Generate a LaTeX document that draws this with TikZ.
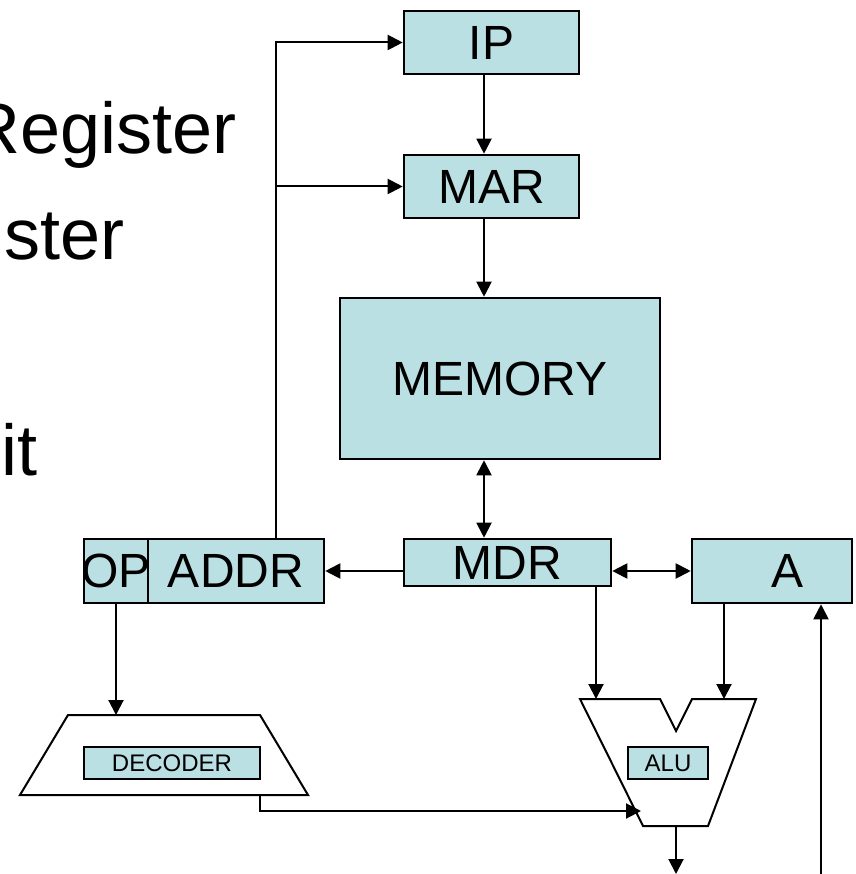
\documentclass[tikz,border=0pt]{standalone}
\usepackage{fontspec}
\setmainfont{Liberation Sans}
\usetikzlibrary{arrows.meta, calc}
\definecolor{regfill}{RGB}{187,224,227}
\newcommand{\bigf}{\fontsize{48}{50}\selectfont}
\newcommand{\smallf}{\fontsize{24}{26}\selectfont}
\tikzset{
  reg/.style={draw, fill=regfill, line width=2.6pt, inner sep=0pt, font=\bigf},
  tag/.style={draw, fill=regfill, line width=2pt, inner sep=0pt, font=\smallf},
  unit/.style={draw, line width=2pt, fill=white},
  wire/.style={line width=2pt, -{Triangle[length=15pt, width=15pt]}},
  bothwire/.style={line width=2pt, {Triangle[length=15pt, width=15pt]}-{Triangle[length=15pt, width=15pt]}},
  slide/.style={anchor=base east, inner sep=0pt, font=\fontsize{72}{74}\selectfont}
}

\begin{document}
\begin{tikzpicture}[x=1pt, y=-1pt]
\useasboundingbox (0,0) rectangle (855,874);
\clip (0,0) rectangle (855,874);
% slide text behind the diagram
\node[slide] (t1) at (237,154) {Register};
\node[slide] (t2) at (125,260) {ster};
\node[slide] (t3) at (38,475) {it};
% registers and memory
\node[reg, minimum width=175pt, minimum height=63pt] (ip) at (491.5,42.5) {IP};
\node[reg, minimum width=175pt, minimum height=63pt] (mar) at (491.5,186.5) {MAR};
\node[reg, minimum width=320pt, minimum height=161pt] (mem) at (500,378.5) {MEMORY};
\node[reg, minimum width=207pt, minimum height=47pt] (mdr) at (507.5,562.5) {MDR};
\node[reg, minimum width=160pt, minimum height=64pt] (acc) at (772,571) {\hspace{30pt}A};
\node[reg, minimum width=64pt, minimum height=64pt] (op) at (116,571) {\makebox[64pt][c]{OP}};
\node[reg, minimum width=176pt, minimum height=64pt] (addr) at (236,571) {ADDR};
% decoder
\draw[unit] (68,715) -- (260,715) -- (308,795) -- (20,795) -- cycle;
\node[tag, minimum width=176pt, minimum height=32pt] (dec) at (172,763) {DECODER};
\coordinate (dec in) at (116,715);
\coordinate (dec out) at (260,795);
% ALU
\draw[unit] (580,699) -- (660,699) -- (676,731) -- (692,699) -- (756,699)
  -- (708,826) -- (643,826) -- cycle;
\node[tag, minimum width=80pt, minimum height=32pt] (alu) at (668,763) {ALU};
\coordinate (alu in1) at (596,699);
\coordinate (alu in2) at (724,699);
\coordinate (alu ctl) at (641,811);
\coordinate (alu out) at (676,826);
\coordinate (res) at (676,874);
\coordinate (feed) at (821,874);
% buses
\coordinate (spine) at (484,0);
\coordinate (bus) at (276,0);
\draw[wire] (spine |- ip.south) -- (spine |- mar.north);
\draw[wire] (spine |- mar.south) -- (spine |- mem.north);
\draw[bothwire] (spine |- mem.south) -- (spine |- mdr.north);
\draw[wire] (mdr.west |- addr.east) -- (addr.east);
\draw[bothwire] (mdr.east |- acc.west) -- (acc.west);
\draw[wire] (bus |- addr.north) |- (ip.west);
\draw[wire] (bus |- mar.west) -- (mar.west);
\draw[wire] (op.south) -- (dec in);
\draw[wire] (dec out) |- (alu ctl);
\draw[wire] (alu in1 |- mdr.south) -- (alu in1);
\draw[wire] (alu in2 |- acc.south) -- (alu in2);
\draw[wire] (alu out) -- (res);
\draw[wire] (feed) -- (feed |- acc.south);
\end{tikzpicture}
\end{document}
